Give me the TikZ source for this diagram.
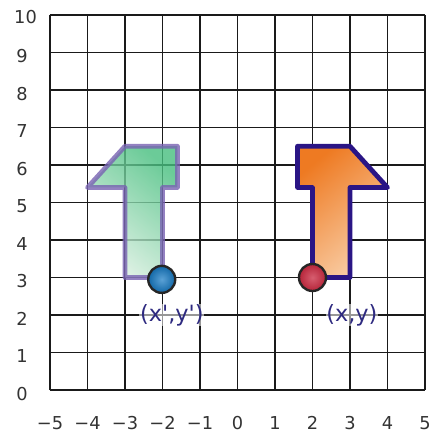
\documentclass[tikz,border=0pt]{standalone}
\usepackage{fontspec}
\setmainfont{DejaVu Sans}
\definecolor{gdark}{HTML}{46BE7E}
\definecolor{glight}{HTML}{DDF0E2}
\definecolor{gline}{HTML}{7862B2}
\definecolor{odark}{HTML}{EE7A22}
\definecolor{olight}{HTML}{F9CFA8}
\definecolor{oline}{HTML}{2A1585}
\definecolor{lblcol}{HTML}{2E2A80}
\definecolor{bluedot}{HTML}{1479C4}
\definecolor{reddot}{HTML}{C9283F}
\definecolor{gridcol}{HTML}{1A1A1A}
\definecolor{axcol}{HTML}{333333}
\begin{document}
\begin{tikzpicture}[x=1cm,y=1cm,
  gridlines/.style={draw=gridcol,line width=1.2pt},
  imgshape/.style={draw=gline,line width=3.6pt,line join=round,draw opacity=0.85,
     top color=gdark,bottom color=glight,shading angle=-40,opacity=0.8},
  origshape/.style={draw=oline,line width=3.6pt,line join=round,
     top color=odark,bottom color=olight,shading angle=40},
  ptdot/.style={circle,draw=black!85,line width=1.8pt,minimum size=0.72cm,inner sep=0pt},
  lbl/.style={text=lblcol,font=\fontsize{17}{20}\selectfont,inner sep=0.5pt,
     fill=white,fill opacity=0.55,text opacity=1},
  xlab/.style={text=axcol,font=\fontsize{13.5}{16}\selectfont,inner sep=0pt},
  ylab/.style={text=axcol,font=\fontsize{13.5}{16}\selectfont,inner sep=0pt,anchor=west}]
\useasboundingbox (-6.333,-1.2) rectangle (5.213,10.4);
\draw[gridlines] (-5,0) grid (5,10);
% axis labels
\foreach \v/\t in {-5/−5,-4/−4,-3/−3,-2/−2,-1/−1,0/0,1/1,2/2,3/3,4/4,5/5}
  \node[xlab] (xl\v) at (\v,-0.88) {\t};
\foreach \v in {0,...,9}
  \node[ylab] (yl\v) at (-5.9,\v-0.1) {\v};
\node[ylab] (yl10) at (-5.96,9.95) {10};
% image shape (reflected)
\shadedraw[imgshape] (-2,3) -- (-3,3) -- (-3,5.4) -- (-4,5.4) -- (-3,6.5) -- (-1.6,6.5) -- (-1.6,5.4) -- (-2,5.4) -- cycle;
% original shape
\shadedraw[origshape] (2,3) -- (3,3) -- (3,5.4) -- (4,5.4) -- (3,6.5) -- (1.6,6.5) -- (1.6,5.4) -- (2,5.4) -- cycle;
% points
\node[ptdot,inner color=bluedot!70!white,outer color=bluedot!85!black] (pimg) at (-2.02,2.95) {};
\node[ptdot,inner color=reddot!75!white,outer color=reddot!90!black] (porig) at (2,3) {};
% labels
\node[lbl] (limg) at (-1.75,2.0) {(x\textquotesingle,y\textquotesingle)};
\node[lbl] (lorig) at (3.05,2.0) {(x,y)};
\end{tikzpicture}
\end{document}
